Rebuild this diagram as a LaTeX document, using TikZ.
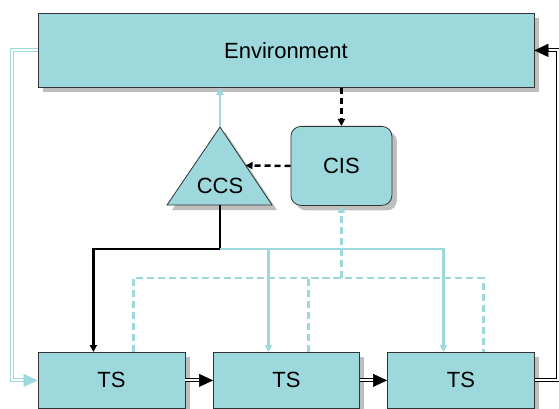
\documentclass[tikz,border=0pt]{standalone}
\usepackage{fontspec}
\setmainfont{Liberation Sans}
\usetikzlibrary{arrows.meta,shadows}
\definecolor{tealfill}{HTML}{9DD8DC}
\definecolor{tealline}{HTML}{9DD8DC}
\definecolor{shadowgray}{HTML}{BEBEBE}
\begin{document}
\begin{tikzpicture}[x=1pt,y=-1pt,
  box/.style={draw=black!80, line width=0.8pt, fill=tealfill, font=\fontsize{22}{26}\selectfont,
    inner sep=0pt, anchor=north west,
    drop shadow={shadow xshift=5pt, shadow yshift=-5pt, fill=shadowgray, opacity=1}},
  lbl/.style={font=\fontsize{22}{26}\selectfont, inner sep=0pt},
  smalltip/.style={-{Triangle[length=7pt,width=7pt]}},
  blackline/.style={draw=black, line width=2.2pt},
  cyanline/.style={draw=tealline, line width=2.2pt},
  blackdash/.style={draw=black, line width=2.5pt, dash pattern=on 6pt off 4pt},
  cyandash/.style={draw=tealline, line width=2.5pt, dash pattern=on 7pt off 4pt},
  cyandouble/.style={draw=tealline, line width=1pt, double=white, double distance=2pt},
  blackdouble/.style={draw=black, line width=1pt, double=white, double distance=2pt},
  bigtip/.style={line width=0.5pt, -{Triangle[length=14pt,width=13pt]}}
]
\useasboundingbox (0,0) rectangle (559,409);

% boxes
\node[box, minimum width=496, minimum height=74] (env) at (37.5,13) {Environment};
\node[box, rounded corners=10pt, minimum width=101, minimum height=79] (cis) at (290.5,126) {CIS};
\node[box, minimum width=147, minimum height=56] (ts1) at (37.5,352) {TS};
\node[box, minimum width=146, minimum height=56] (ts2) at (213,352) {TS};
\node[box, minimum width=147, minimum height=56] (ts3) at (387,352) {TS};

% CCS triangle
\coordinate (apex) at (220,127);
\coordinate (bl) at (167,205);
\coordinate (br) at (272,205);
\coordinate (ccsB) at (220,205);
\coordinate (ccsR) at (245.5,165.5);
\fill[shadowgray] ([shift={(5,5)}]apex) -- ([shift={(5,5)}]bl) -- ([shift={(5,5)}]br) -- cycle;
\draw[draw=black!80, line width=0.8pt, fill=tealfill] (apex) -- (bl) -- (br) -- cycle;
\node[lbl] (ccs) at (220,186) {CCS};

% Environment -> CIS
\draw[blackdash, smalltip] (cis.north |- env.south) -- (cis.north);
% CIS -> CCS
\draw[blackdash, smalltip] (cis.west) -- (ccsR);
% CCS -> Environment
\draw[cyanline, smalltip] (apex) -- (apex |- env.south);

% CCS -> TS
\coordinate (j) at (220,249);
\draw[blackline, smalltip] (ccsB) -- (j) -| ([xshift=-18pt]ts1.north);
\draw[cyanline, smalltip] (j) -| ([xshift=-18pt]ts2.north);
\draw[cyanline, smalltip] (j) -| ([xshift=-17.5pt]ts3.north);

% TS -> CIS (dashed)
\coordinate (h) at (cis.south |- 0,278);
\draw[cyandash] ([xshift=22pt]ts1.north) |- (h) -| ([xshift=22.5pt]ts3.north);
\draw[cyandash] ([xshift=22pt]ts2.north) |- (h);
\draw[cyandash, smalltip] (h) -- (cis.south);

% Environment -> TS1 (double, left)
\draw[cyandouble] (env.west) -- ++(-25.5,0) |- ([xshift=-14pt]ts1.west);
\draw[bigtip, draw=tealline, fill=tealline] ([xshift=-14pt]ts1.west) -- (ts1.west);

% TS3 -> Environment (double, right)
\draw[blackdouble] (ts3.east) -- ++(23.5,0) |- ([xshift=14pt]env.east);
\draw[bigtip] ([xshift=14pt]env.east) -- (env.east);

% TS -> TS
\draw[blackdouble] (ts1.east) -- ([xshift=-14pt]ts2.west);
\draw[bigtip] ([xshift=-14pt]ts2.west) -- (ts2.west);
\draw[blackdouble] (ts2.east) -- ([xshift=-14pt]ts3.west);
\draw[bigtip] ([xshift=-14pt]ts3.west) -- (ts3.west);
\end{tikzpicture}
\end{document}
